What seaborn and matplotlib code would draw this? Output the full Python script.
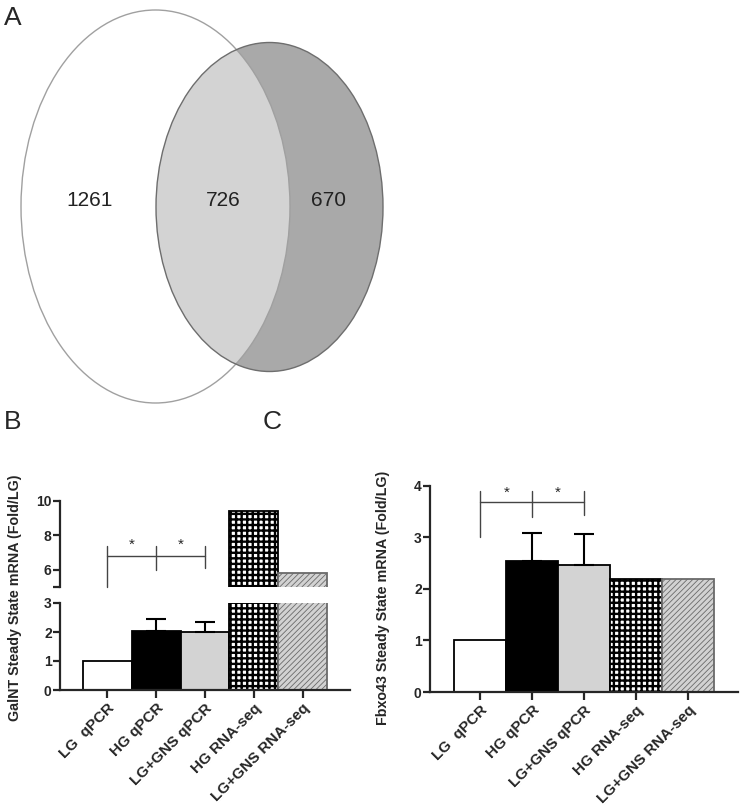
import matplotlib
matplotlib.use("Agg")
import matplotlib.pyplot as plt
import seaborn as sns
from matplotlib.patches import Ellipse


CATEGORIES = ["LG  qPCR", "HG qPCR", "LG+GNS qPCR", "HG RNA-seq", "LG+GNS RNA-seq"]
GALNT_VALUES = [1.0, 2.05, 2.0, 9.4, 5.8]
GALNT_ERR_UP = [0.0, 0.4, 0.36, 0.0, 0.0]
FBXO43_VALUES = [1.0, 2.54, 2.46, 2.2, 2.2]
FBXO43_ERR_UP = [0.0, 0.55, 0.6, 0.0, 0.0]
VENN_COUNTS = [1261, 726, 670]

BAR_COLORS = ["white", "black", "#d3d3d3", "white", "#d2d2d2"]
BAR_EDGES = ["black", "black", "black", "black", "#6a6a6a"]
BAR_HATCHES = [None, None, None, "+++", "//////"]

FONT = ["Liberation Sans", "DejaVu Sans"]


def draw_venn(ax):
    """Two-set Venn in pixel coordinates of the top panel."""
    ax.set_xlim(0, 745)
    ax.set_ylim(420, 0)
    ax.axis("off")

    left = Ellipse((155.5, 206.5), 269, 393, facecolor="white", edgecolor="none")
    right = Ellipse((269.5, 207), 227, 329, facecolor="#a9a9a9", edgecolor="none")
    ax.add_patch(left)
    ax.add_patch(right)
    inter = Ellipse((269.5, 207), 227, 329, facecolor="#d3d3d3", edgecolor="none")
    ax.add_patch(inter)
    inter.set_clip_path(left)
    ax.add_patch(Ellipse((155.5, 206.5), 269, 393, facecolor="none",
                         edgecolor="#a0a0a0", linewidth=1.0))
    ax.add_patch(Ellipse((269.5, 207), 227, 329, facecolor="none",
                         edgecolor="#6e6e6e", linewidth=1.0))

    for count, x in zip(VENN_COUNTS, [90, 223, 328]):
        ax.text(x, 200, str(count), ha="center", va="center", fontsize=15,
                color="#222222", family=FONT)


def draw_bars(ax, values, err_up):
    sns.barplot(x=CATEGORIES, y=values, hue=CATEGORIES, palette=BAR_COLORS,
                saturation=1, width=1.0, errorbar=None, legend=False,
                linewidth=1.3, edgecolor="black", ax=ax)
    for patch, edge, hatch in zip(ax.patches, BAR_EDGES, BAR_HATCHES):
        patch.set_edgecolor(edge)
        if hatch:
            patch.set_hatch(hatch)
            if hasattr(patch, "set_hatch_linewidth"):
                patch.set_hatch_linewidth(1.7 if hatch == "+++" else 0.6)
    idx = [i for i, e in enumerate(err_up) if e > 0]
    ax.errorbar(idx, [values[i] for i in idx],
                yerr=[[0] * len(idx), [err_up[i] for i in idx]],
                fmt="none", ecolor="black", elinewidth=1.5, capsize=7,
                capthick=1.5, zorder=1)
    ax.set_xlim(-0.97, 4.97)


def style_axis(ax, bottom=True):
    sns.despine(ax=ax, top=True, right=True, bottom=not bottom)
    ax.spines["left"].set_linewidth(1.6)
    ax.spines["bottom"].set_linewidth(1.6)
    ax.tick_params(axis="y", length=5, width=1.6, labelsize=10, pad=1)
    for lbl in ax.get_yticklabels():
        lbl.set_fontweight("bold")
        lbl.set_family(FONT)
    ax.set_xlabel("")
    ax.set_ylabel("")
    if bottom:
        ax.tick_params(axis="x", length=6, width=1.6, labelsize=11, pad=2)
        ax.set_xticks(range(len(CATEGORIES)))
        ax.set_xticklabels(CATEGORIES, rotation=45, ha="right",
                           rotation_mode="anchor", fontweight="bold",
                           family=FONT)
    else:
        ax.set_xticks([])


def draw_bracket(ax, top, bar_y, lows, star_y):
    kw = dict(color="#444444", linewidth=1.0, clip_on=False)
    ax.plot([0, 2], [bar_y, bar_y], **kw)
    for x, low in zip([0, 1, 2], lows):
        ax.plot([x, x], [top, low], **kw)
    for x in (0.5, 1.5):
        ax.text(x, star_y, "*", ha="center", va="center", fontsize=11,
                family=FONT)


def main():
    sns.set_style("ticks")
    plt.rcParams["font.family"] = FONT
    plt.rcParams["hatch.linewidth"] = 1.7

    fig = plt.figure(figsize=(7.45, 8.09), dpi=100)
    W, H = 745.0, 809.0

    def px_axes(x0, y_top, x1, y_bot):
        return fig.add_axes([x0 / W, 1 - y_bot / H, (x1 - x0) / W, (y_bot - y_top) / H])

    ax_venn = px_axes(0, 0, 745, 420)
    draw_venn(ax_venn)

    # Panel B: broken axis
    ax_b_low = px_axes(60, 603, 350, 690)
    ax_b_up = px_axes(60, 501, 350, 587)
    draw_bars(ax_b_low, GALNT_VALUES, GALNT_ERR_UP)
    draw_bars(ax_b_up, GALNT_VALUES, GALNT_ERR_UP)
    ax_b_low.set_ylim(0, 3)
    ax_b_low.set_yticks([0, 1, 2, 3])
    ax_b_up.set_ylim(5, 10)
    ax_b_up.set_yticks([5, 6, 8, 10])
    style_axis(ax_b_low, bottom=True)
    style_axis(ax_b_up, bottom=False)
    ax_b_up.set_yticklabels(["", "6", "8", "10"], fontweight="bold", family=FONT)
    draw_bracket(ax_b_up, 7.4, 6.82, [5.0, 6.0, 6.1], 7.45)

    # Panel C
    ax_c = px_axes(430, 485.7, 738, 692)
    draw_bars(ax_c, FBXO43_VALUES, FBXO43_ERR_UP)
    ax_c.set_ylim(0, 4)
    ax_c.set_yticks([0, 1, 2, 3, 4])
    style_axis(ax_c, bottom=True)
    draw_bracket(ax_c, 3.9, 3.68, [3.0, 3.4, 3.43], 3.86)

    fig.text(15 / W, 1 - 598 / H, "GalNT Steady State mRNA (Fold/LG)",
             rotation=90, ha="center", va="center", fontsize=10.3,
             fontweight="bold")
    fig.text(383 / W, 1 - 598 / H, "Fbxo43 Steady State mRNA (Fold/LG)",
             rotation=90, ha="center", va="center", fontsize=10.3,
             fontweight="bold")

    fig.text(13 / W, 1 - 18 / H, "A", ha="center", va="center", fontsize=19)
    fig.text(13 / W, 1 - 422 / H, "B", ha="center", va="center", fontsize=19)
    fig.text(272 / W, 1 - 422 / H, "C", ha="center", va="center", fontsize=19)

    fig.savefig("out.png", dpi=100)
    plt.close(fig)


if __name__ == "__main__":
    main()
